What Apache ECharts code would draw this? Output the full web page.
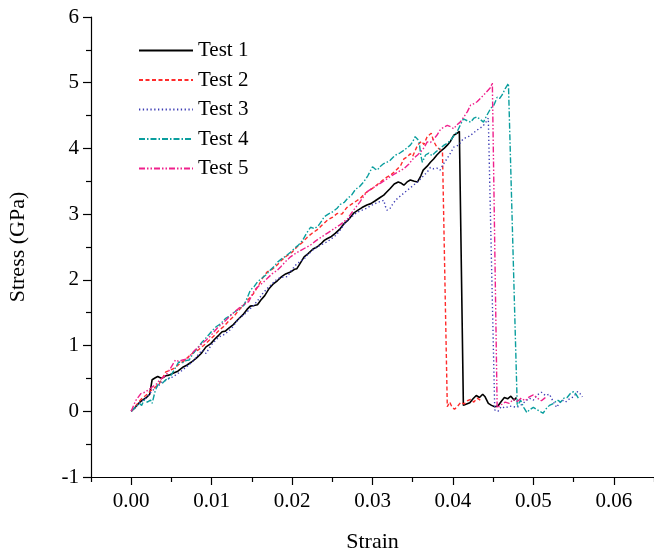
<!DOCTYPE html>
<html>
<head>
<meta charset="utf-8">
<script src="https://cdn.jsdelivr.net/npm/echarts@6/dist/echarts.min.js"></script>
<style>html,body{margin:0;padding:0;background:#fff}#c{width:654px;height:552px}</style>
</head>
<body>
<div id="c"></div>
<script>
// ---- data: [strain, stress (GPa)] ----
const seriesNames = ['Test 1', 'Test 2', 'Test 3', 'Test 4', 'Test 5'];
const xMajorTicks = [0, 0.01, 0.02, 0.03, 0.04, 0.05, 0.06];
const xMinorTicks = [-0.005, 0.005, 0.015, 0.025, 0.035, 0.045, 0.055, 0.065];

const test1 = [[0,0],[0.0005,0.06],[0.0010,0.13],[0.0014,0.17],[0.0019,0.21],[0.0023,0.26],[0.0026,0.48],[0.0030,0.51],[0.0033,0.53],[0.0038,0.50],[0.0043,0.54],[0.0047,0.55],[0.0052,0.58],[0.0058,0.61],[0.0064,0.67],[0.0069,0.70],[0.0075,0.75],[0.0081,0.81],[0.0087,0.88],[0.0093,0.98],[0.0099,1.03],[0.0104,1.10],[0.0109,1.16],[0.0113,1.21],[0.0117,1.22],[0.0121,1.26],[0.0127,1.32],[0.0133,1.40],[0.0139,1.47],[0.0144,1.55],[0.0148,1.60],[0.0153,1.61],[0.0157,1.62],[0.0161,1.69],[0.0166,1.76],[0.0171,1.86],[0.0176,1.93],[0.0182,1.99],[0.0187,2.05],[0.0192,2.09],[0.0198,2.12],[0.0203,2.16],[0.0206,2.17],[0.0211,2.27],[0.0215,2.35],[0.0220,2.40],[0.0226,2.47],[0.0231,2.50],[0.0236,2.55],[0.0240,2.60],[0.0244,2.63],[0.0249,2.66],[0.0254,2.71],[0.0260,2.78],[0.0265,2.86],[0.0269,2.90],[0.0273,2.96],[0.0277,3.02],[0.0282,3.06],[0.0287,3.10],[0.0293,3.14],[0.0298,3.16],[0.0303,3.20],[0.0309,3.25],[0.0314,3.29],[0.0318,3.34],[0.0322,3.39],[0.0327,3.46],[0.0332,3.49],[0.0336,3.47],[0.0339,3.44],[0.0343,3.49],[0.0347,3.52],[0.0352,3.50],[0.0356,3.49],[0.0360,3.58],[0.0363,3.67],[0.0368,3.73],[0.0372,3.79],[0.0376,3.84],[0.0380,3.90],[0.0384,3.95],[0.0389,4.00],[0.0393,4.05],[0.0397,4.11],[0.0401,4.20],[0.0405,4.23],[0.0408,4.26],[0.0413,0.09],[0.0417,0.11],[0.0421,0.13],[0.0425,0.19],[0.0429,0.24],[0.0433,0.21],[0.0437,0.26],[0.0440,0.22],[0.0444,0.12],[0.0448,0.09],[0.0452,0.07],[0.0456,0.08],[0.0460,0.15],[0.0464,0.21],[0.0468,0.19],[0.0472,0.23],[0.0476,0.17],[0.0479,0.21]];

const test2 = [[0,0],[0.0006,0.09],[0.0012,0.18],[0.0018,0.24],[0.0024,0.31],[0.0030,0.37],[0.0035,0.42],[0.0039,0.51],[0.0043,0.60],[0.0048,0.62],[0.0054,0.66],[0.0060,0.72],[0.0066,0.77],[0.0072,0.84],[0.0078,0.90],[0.0084,0.94],[0.0090,1.00],[0.0097,1.08],[0.0103,1.15],[0.0109,1.23],[0.0115,1.29],[0.0121,1.37],[0.0128,1.45],[0.0134,1.54],[0.0140,1.62],[0.0146,1.71],[0.0152,1.79],[0.0158,1.91],[0.0164,2.04],[0.0169,2.12],[0.0175,2.16],[0.0181,2.22],[0.0187,2.30],[0.0194,2.37],[0.0200,2.42],[0.0206,2.50],[0.0212,2.56],[0.0219,2.65],[0.0225,2.71],[0.0231,2.76],[0.0237,2.83],[0.0244,2.91],[0.0250,2.95],[0.0256,3.01],[0.0262,3.00],[0.0268,3.10],[0.0275,3.16],[0.0280,3.20],[0.0285,3.24],[0.0290,3.31],[0.0296,3.36],[0.0303,3.42],[0.0310,3.49],[0.0316,3.55],[0.0322,3.59],[0.0328,3.65],[0.0335,3.74],[0.0339,3.84],[0.0343,3.87],[0.0347,3.92],[0.0350,3.88],[0.0356,4.05],[0.0361,4.11],[0.0364,4.06],[0.0368,4.18],[0.0373,4.23],[0.0376,4.11],[0.0380,4.02],[0.0384,3.98],[0.0387,3.95],[0.0393,0.07],[0.0396,0.14],[0.0399,0.06],[0.0402,0.03],[0.0406,0.08],[0.0410,0.14],[0.0414,0.11],[0.0418,0.16],[0.0422,0.18],[0.0426,0.14],[0.0430,0.20],[0.0434,0.17]];

const test3 = [[0,0],[0.0005,0.05],[0.0009,0.12],[0.0014,0.16],[0.0018,0.20],[0.0023,0.27],[0.0027,0.32],[0.0033,0.38],[0.0039,0.45],[0.0043,0.47],[0.0047,0.50],[0.0051,0.52],[0.0055,0.55],[0.0061,0.60],[0.0068,0.67],[0.0072,0.71],[0.0076,0.75],[0.0082,0.84],[0.0088,0.93],[0.0093,0.88],[0.0097,0.96],[0.0101,1.03],[0.0105,1.08],[0.0109,1.13],[0.0113,1.15],[0.0117,1.18],[0.0122,1.23],[0.0126,1.28],[0.0130,1.35],[0.0134,1.41],[0.0138,1.45],[0.0142,1.49],[0.0147,1.55],[0.0153,1.62],[0.0158,1.70],[0.0164,1.80],[0.0170,1.88],[0.0176,1.95],[0.0182,2.02],[0.0188,2.04],[0.0194,2.05],[0.0199,2.14],[0.0204,2.22],[0.0209,2.27],[0.0215,2.32],[0.0219,2.38],[0.0223,2.42],[0.0227,2.47],[0.0231,2.50],[0.0237,2.54],[0.0244,2.58],[0.0248,2.62],[0.0252,2.65],[0.0256,2.70],[0.0260,2.76],[0.0265,2.85],[0.0270,2.92],[0.0275,2.97],[0.0281,3.03],[0.0287,3.06],[0.0293,3.09],[0.0298,3.13],[0.0303,3.16],[0.0309,3.19],[0.0314,3.21],[0.0316,3.12],[0.0318,3.06],[0.0322,3.09],[0.0326,3.17],[0.0331,3.24],[0.0337,3.30],[0.0343,3.36],[0.0347,3.40],[0.0351,3.44],[0.0356,3.49],[0.0360,3.54],[0.0364,3.59],[0.0368,3.64],[0.0372,3.71],[0.0376,3.69],[0.0380,3.70],[0.0384,3.67],[0.0388,3.76],[0.0393,3.85],[0.0397,3.93],[0.0401,4.02],[0.0407,4.05],[0.0410,4.10],[0.0413,4.15],[0.0418,4.17],[0.0422,4.20],[0.0426,4.24],[0.0430,4.28],[0.0434,4.31],[0.0438,4.35],[0.0441,4.40],[0.0444,4.46],[0.0452,0.02],[0.0456,0.00],[0.0460,0.07],[0.0465,0.05],[0.0470,0.08],[0.0475,0.07],[0.0480,0.06],[0.0485,0.10],[0.0490,0.15],[0.0495,0.20],[0.0500,0.17],[0.0505,0.25],[0.0510,0.29],[0.0515,0.24],[0.0520,0.26],[0.0525,0.14],[0.0529,0.06],[0.0532,0.12],[0.0536,0.17],[0.0540,0.14],[0.0545,0.19],[0.0550,0.22],[0.0555,0.30],[0.0558,0.27],[0.0561,0.22]];

const test4 = [[0,0],[0.0005,0.06],[0.0010,0.12],[0.0013,0.09],[0.0016,0.17],[0.0020,0.14],[0.0024,0.17],[0.0026,0.12],[0.0030,0.32],[0.0035,0.45],[0.0039,0.43],[0.0043,0.48],[0.0047,0.50],[0.0052,0.60],[0.0056,0.68],[0.0059,0.75],[0.0064,0.74],[0.0068,0.77],[0.0072,0.78],[0.0077,0.88],[0.0083,0.97],[0.0088,1.05],[0.0094,1.13],[0.0101,1.23],[0.0106,1.29],[0.0111,1.33],[0.0117,1.41],[0.0121,1.44],[0.0126,1.49],[0.0131,1.53],[0.0136,1.58],[0.0140,1.61],[0.0144,1.72],[0.0148,1.84],[0.0153,1.90],[0.0157,1.97],[0.0162,2.02],[0.0167,2.07],[0.0173,2.15],[0.0178,2.21],[0.0182,2.27],[0.0187,2.32],[0.0192,2.36],[0.0198,2.42],[0.0203,2.48],[0.0208,2.53],[0.0213,2.60],[0.0218,2.71],[0.0223,2.80],[0.0228,2.78],[0.0233,2.83],[0.0237,2.90],[0.0240,2.96],[0.0245,3.00],[0.0251,3.04],[0.0256,3.09],[0.0260,3.15],[0.0265,3.18],[0.0269,3.24],[0.0274,3.29],[0.0279,3.38],[0.0284,3.42],[0.0289,3.49],[0.0294,3.58],[0.0300,3.72],[0.0303,3.69],[0.0306,3.67],[0.0310,3.73],[0.0314,3.77],[0.0318,3.79],[0.0322,3.82],[0.0326,3.87],[0.0329,3.90],[0.0334,3.93],[0.0339,3.97],[0.0343,4.01],[0.0347,4.05],[0.0350,4.10],[0.0353,4.18],[0.0356,4.14],[0.0358,4.10],[0.0360,3.90],[0.0362,3.79],[0.0366,3.90],[0.0370,3.93],[0.0374,3.89],[0.0378,3.94],[0.0382,3.98],[0.0386,4.02],[0.0389,4.05],[0.0393,4.08],[0.0397,4.12],[0.0401,4.19],[0.0405,4.25],[0.0409,4.35],[0.0413,4.45],[0.0418,4.42],[0.0422,4.40],[0.0426,4.46],[0.0430,4.48],[0.0434,4.44],[0.0438,4.40],[0.0442,4.50],[0.0447,4.61],[0.0451,4.66],[0.0455,4.78],[0.0458,4.76],[0.0461,4.81],[0.0465,4.91],[0.0469,4.99],[0.0480,0.07],[0.0484,0.17],[0.0488,0.06],[0.0492,-0.02],[0.0495,0.02],[0.0500,0.06],[0.0504,0.03],[0.0508,0.00],[0.0512,-0.03],[0.0516,0.04],[0.0520,0.09],[0.0525,0.12],[0.0530,0.17],[0.0534,0.14],[0.0538,0.20],[0.0542,0.21],[0.0546,0.27],[0.0550,0.30],[0.0553,0.26],[0.0556,0.20]];

const test5 = [[0,0],[0.0003,0.09],[0.0006,0.17],[0.0009,0.22],[0.0012,0.27],[0.0017,0.29],[0.0022,0.33],[0.0026,0.37],[0.0031,0.41],[0.0035,0.47],[0.0039,0.51],[0.0043,0.55],[0.0047,0.62],[0.0051,0.70],[0.0055,0.78],[0.0059,0.76],[0.0064,0.78],[0.0070,0.80],[0.0074,0.86],[0.0079,0.93],[0.0084,0.98],[0.0088,1.03],[0.0093,1.08],[0.0098,1.14],[0.0103,1.21],[0.0108,1.28],[0.0113,1.33],[0.0118,1.39],[0.0123,1.45],[0.0128,1.51],[0.0132,1.55],[0.0136,1.59],[0.0141,1.63],[0.0146,1.67],[0.0150,1.76],[0.0153,1.84],[0.0158,1.90],[0.0164,1.96],[0.0169,2.02],[0.0175,2.09],[0.0181,2.14],[0.0186,2.20],[0.0192,2.28],[0.0198,2.35],[0.0204,2.40],[0.0211,2.45],[0.0217,2.49],[0.0223,2.53],[0.0229,2.59],[0.0235,2.64],[0.0240,2.68],[0.0245,2.72],[0.0250,2.76],[0.0255,2.80],[0.0260,2.84],[0.0265,2.89],[0.0269,2.93],[0.0274,3.02],[0.0279,3.10],[0.0284,3.18],[0.0289,3.27],[0.0293,3.34],[0.0298,3.38],[0.0302,3.41],[0.0306,3.44],[0.0311,3.48],[0.0316,3.52],[0.0322,3.57],[0.0327,3.61],[0.0333,3.65],[0.0339,3.69],[0.0345,3.76],[0.0351,3.85],[0.0356,3.90],[0.0360,3.95],[0.0364,4.01],[0.0368,4.10],[0.0372,4.09],[0.0376,4.14],[0.0380,4.20],[0.0384,4.28],[0.0388,4.32],[0.0393,4.35],[0.0397,4.33],[0.0401,4.30],[0.0405,4.36],[0.0409,4.40],[0.0413,4.47],[0.0418,4.56],[0.0422,4.66],[0.0426,4.68],[0.0430,4.71],[0.0434,4.76],[0.0438,4.81],[0.0441,4.85],[0.0444,4.89],[0.0447,4.93],[0.0449,5.00],[0.0455,0.05],[0.0460,0.10],[0.0465,0.14],[0.0470,0.12],[0.0475,0.18],[0.0480,0.15],[0.0485,0.20],[0.0490,0.16],[0.0495,0.22],[0.0500,0.25],[0.0505,0.20],[0.0510,0.16],[0.0514,0.20],[0.0517,0.22]];

const allData = [test1, test2, test3, test4, test5];
const colors = ['#000000', '#ff2b2b', '#3c3cb4', '#0a9e9e', '#f0208c'];
const dashes = ['solid', [4, 2.5], [1.3, 2.5], [6, 2, 1.5, 2], [6, 2, 1.5, 2, 1.5, 2]];

const FONT = 'Liberation Serif';
const chart = echarts.init(document.getElementById('c'), null, {renderer: 'canvas'});
const axisColor = '#000';

const option = {
  animation: false,
  backgroundColor: '#ffffff',
  grid: {left: 91, right: 0, top: 17, bottom: 75, containLabel: false, outerBoundsMode: 'none'},
  legend: {
    orient: 'vertical', left: 133, top: 35,
    itemWidth: 54, itemHeight: 14, itemGap: 8.5,
    itemStyle: {opacity: 0, borderWidth: 0},
    textStyle: {fontFamily: FONT, fontSize: 21, color: '#000'},
    data: seriesNames
  },
  xAxis: [{
    type: 'value', min: -0.005, max: 0.065,
    axisLine: {onZero: false, lineStyle: {color: axisColor, width: 1.2}},
    axisTick: {customValues: xMajorTicks, length: 8, lineStyle: {color: axisColor, width: 1.2}},
    axisLabel: {customValues: xMajorTicks, formatter: v => v.toFixed(2), fontFamily: FONT, fontSize: 21, color: '#000', margin: 14},
    splitLine: {show: false},
    name: 'Strain', nameLocation: 'middle', nameGap: 54,
    nameTextStyle: {fontFamily: FONT, fontSize: 22, color: '#000'}
  }, {
    type: 'value', min: -0.005, max: 0.065, position: 'bottom',
    axisLine: {show: false, onZero: false},
    axisTick: {customValues: xMinorTicks, length: 5, lineStyle: {color: axisColor, width: 1.2}},
    axisLabel: {show: false},
    splitLine: {show: false}
  }],
  yAxis: {
    type: 'value', min: -1, max: 6, interval: 1,
    axisLine: {show: true, onZero: false, lineStyle: {color: axisColor, width: 1.2}},
    axisTick: {show: true, length: 8, lineStyle: {color: axisColor, width: 1.2}},
    minorTick: {show: true, splitNumber: 2, length: 5, lineStyle: {color: axisColor, width: 1.2}},
    axisLabel: {fontFamily: FONT, fontSize: 21, color: '#000', margin: 12},
    splitLine: {show: false},
    name: 'Stress (GPa)', nameLocation: 'middle', nameGap: 62,
    nameTextStyle: {fontFamily: FONT, fontSize: 22, color: '#000'}
  },
  series: seriesNames.map((n, i) => ({
    name: n, type: 'line', data: allData[i], xAxisIndex: 0,
    showSymbol: false, symbol: 'none',
    color: colors[i],
    lineStyle: {color: colors[i], width: i === 0 ? 1.6 : 1.4, type: dashes[i]},
    z: 2 + i
  }))
};
chart.setOption(option);
</script>
</body>
</html>
